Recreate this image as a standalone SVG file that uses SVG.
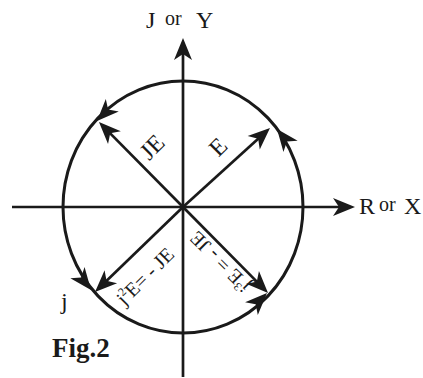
<svg xmlns="http://www.w3.org/2000/svg" width="423" height="378" viewBox="0 0 423 378">
<style>
.ln{stroke:#1a1a1a;stroke-width:2.7;fill:none}
.cir{stroke:#1a1a1a;stroke-width:3;fill:none}
.hd{fill:#1a1a1a}
.t{font-family:"Liberation Serif","Times New Roman",serif;fill:#1a1a1a}
</style>
<defs>
<marker id="ah" viewBox="-24 -10 24 20" markerWidth="24" markerHeight="20" refX="-10" refY="0" markerUnits="userSpaceOnUse" orient="auto">
<path d="M0,0 L-22,-9 L-16,0 L-22,9 Z" fill="#1a1a1a"/>
</marker>
<path id="head" d="M0,0 L-22,-9 L-16,0 L-22,9 Z"/>
</defs>
<rect width="423" height="378" fill="#fff"/>
<g id="circle">
<ellipse class="cir" cx="183" cy="207" rx="120" ry="126"/>
<use href="#head" class="hd" transform="translate(277,129) rotate(-128)"/>
<use href="#head" class="hd" transform="translate(97,121) rotate(134)"/>
<use href="#head" class="hd" transform="translate(91,290) rotate(52)"/>
<use href="#head" class="hd" transform="translate(267,293) rotate(-45)"/>
</g>
<g id="connectors">
<line class="ln" x1="12" y1="207" x2="345" y2="207" marker-end="url(#ah)"/>
<line class="ln" x1="183" y1="377" x2="183" y2="48" marker-end="url(#ah)"/>
<line class="ln" x1="183" y1="207" x2="262.6" y2="134.7" marker-end="url(#ah)"/>
<line class="ln" x1="183" y1="207" x2="106" y2="129.1" marker-end="url(#ah)"/>
<line class="ln" x1="183" y1="207" x2="102.2" y2="285" marker-end="url(#ah)"/>
<line class="ln" x1="183" y1="207" x2="261" y2="285.9" marker-end="url(#ah)"/>
</g>
<g id="label-y">
<text class="t" x="146" y="28" font-size="24">J</text>
<text class="t" x="165" y="25" font-size="20">or</text>
<text class="t" x="196" y="28" font-size="24">Y</text>
</g>
<g id="label-x">
<text class="t" x="359" y="214" font-size="24">R</text>
<text class="t" x="379" y="211" font-size="20">or</text>
<text class="t" x="404" y="214" font-size="24">X</text>
</g>
<g id="label-E">
<text class="t" font-size="24" text-anchor="middle" transform="translate(218,147) rotate(-45)" y="8">E</text>
</g>
<g id="label-JE">
<text class="t" font-size="24" text-anchor="middle" transform="translate(152,147) rotate(-45)" y="8">JE</text>
</g>
<g id="label-j2E">
<text class="t" font-size="20" text-anchor="middle" transform="translate(145,276) rotate(-45)" y="7">j<tspan font-size="12" dy="-8">2</tspan><tspan dy="8">E= - JE</tspan></text>
</g>
<g id="label-j3E">
<text class="t" font-size="20" text-anchor="middle" transform="translate(220,262) rotate(-135)" y="7">j<tspan font-size="12" dy="-8">3</tspan><tspan dy="8">E = - JE</tspan></text>
</g>
<g id="label-j">
<text class="t" x="61" y="309" font-size="24">j</text>
</g>
<g id="label-fig">
<text class="t" x="52" y="357" font-size="27" font-weight="bold">Fig.2</text>
</g>
</svg>
